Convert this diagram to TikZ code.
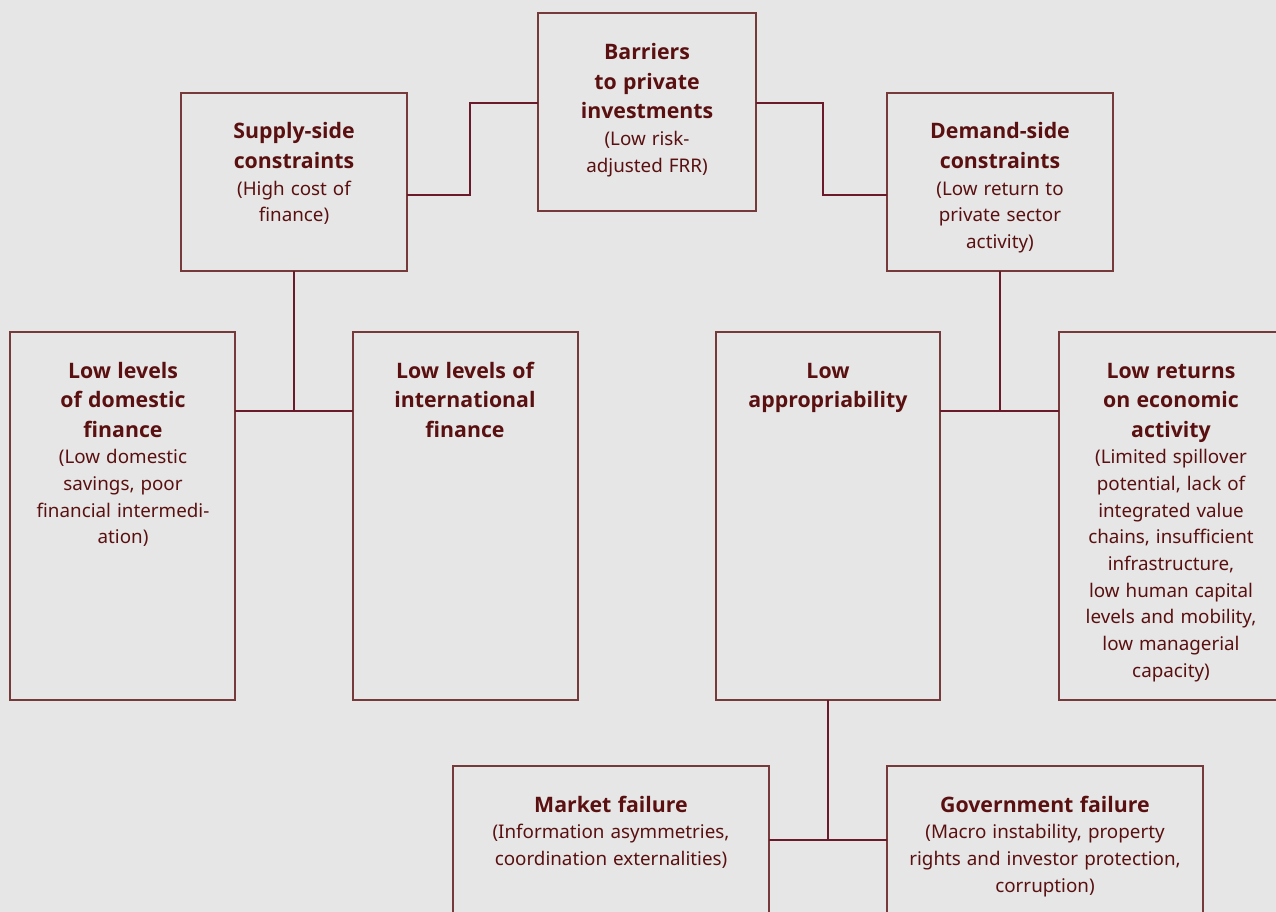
\documentclass[tikz,border=0pt]{standalone}
\usepackage{fontspec}
\setmainfont{Noto Sans}
\newfontfamily\hdfont{Open Sans}
\definecolor{bgc}{HTML}{E6E6E6}
\definecolor{txt}{HTML}{5A1010}
\definecolor{boxc}{HTML}{763A3A}
\definecolor{linec}{HTML}{6B1A2C}
\newcommand{\hd}[1]{{\hdfont\bfseries\fontsize{21.3}{29.5}\selectfont\spaceskip=0.3em\relax #1\par}}
\newcommand{\bd}[1]{{\fontsize{18.8}{26.7}\selectfont\spaceskip=0.32em\relax #1\par}}
\begin{document}
\begin{tikzpicture}[x=1pt,y=-1pt,
  box/.style={draw=boxc, line width=1.3pt, anchor=north west, inner sep=0pt, outer sep=0pt},
  link/.style={draw=linec, line width=1.3pt},
  lbl/.style={anchor=base, align=center, text width=#1pt, inner sep=0pt, text=txt},
]
\fill[bgc] (0,0) rectangle (1276,912);
\clip (0,0) rectangle (1276,912);
\useasboundingbox (0,0) rectangle (1276,912);

% boxes
\node[box, minimum width=218pt, minimum height=198pt] (barriers) at (538,13) {};
\node[box, minimum width=226pt, minimum height=178pt] (supply) at (181,93) {};
\node[box, minimum width=226pt, minimum height=178pt] (demand) at (887,93) {};
\node[box, minimum width=225pt, minimum height=368pt] (dom) at (10,332) {};
\node[box, minimum width=225pt, minimum height=368pt] (intl) at (353,332) {};
\node[box, minimum width=224pt, minimum height=368pt] (approp) at (716,332) {};
\node[box, minimum width=240pt, minimum height=368pt] (returns) at (1059,332) {};
\node[box, minimum width=316pt, minimum height=170pt] (market) at (453,766) {};
\node[box, minimum width=316pt, minimum height=170pt] (govt) at (887,766) {};

% labels
\node[lbl=210] (tbarriers) at (647,60) {\hd{Barriers\\to private\\investments}\bd{(Low risk-\\adjusted FRR)}};
\node[lbl=220] (tsupply) at (294,139) {\hd{Supply-side\\constraints}\bd{(High cost of\\finance)}};
\node[lbl=220] (tdemand) at (1000,139) {\hd{Demand-side\\constraints}\bd{(Low return to\\private sector\\activity)}};
\node[lbl=220] (tdom) at (123,378) {\hd{Low levels\\of domestic\\finance}\bd{(Low domestic\\savings, poor\\financial intermedi-\\ation)}};
\node[lbl=220] (tintl) at (465,378) {\hd{Low levels of\\international\\finance}};
\node[lbl=220] (tapprop) at (828,378) {\hd{Low\\appropriability}};
\node[lbl=220] (treturns) at (1171,378) {\hd{Low returns\\on economic\\activity}\bd{(Limited spillover\\potential, lack of\\integrated value\\chains, insufficient\\infrastructure,\\low human capital\\levels and mobility,\\low managerial\\capacity)}};
\node[lbl=310] (tmarket) at (611,812) {\hd{Market failure}\bd{(Information asymmetries,\\coordination externalities)}};
\node[lbl=310] (tgovt) at (1045,812) {\hd{Government failure}\bd{(Macro instability, property\\rights and investor protection,\\corruption)}};

% connectors
\coordinate (j1) at (470,195);
\coordinate (j2) at (823,103);
\draw[link] (supply.east |- j1) -- (j1) |- (barriers.west |- 0,103);
\draw[link] (barriers.east |- j2) -- (j2) |- (demand.west |- 0,195);

\coordinate (j3) at (294,411);
\draw[link] (supply.south) -- (supply.south |- j3);
\draw[link] (dom.east |- j3) -- (intl.west |- j3);

\coordinate (j4) at (1000,411);
\draw[link] (demand.south) -- (demand.south |- j4);
\draw[link] (approp.east |- j4) -- (returns.west |- j4);

\coordinate (j5) at (828,840);
\draw[link] (approp.south) -- (approp.south |- j5);
\draw[link] (market.east |- j5) -- (govt.west |- j5);
\end{tikzpicture}
\end{document}
